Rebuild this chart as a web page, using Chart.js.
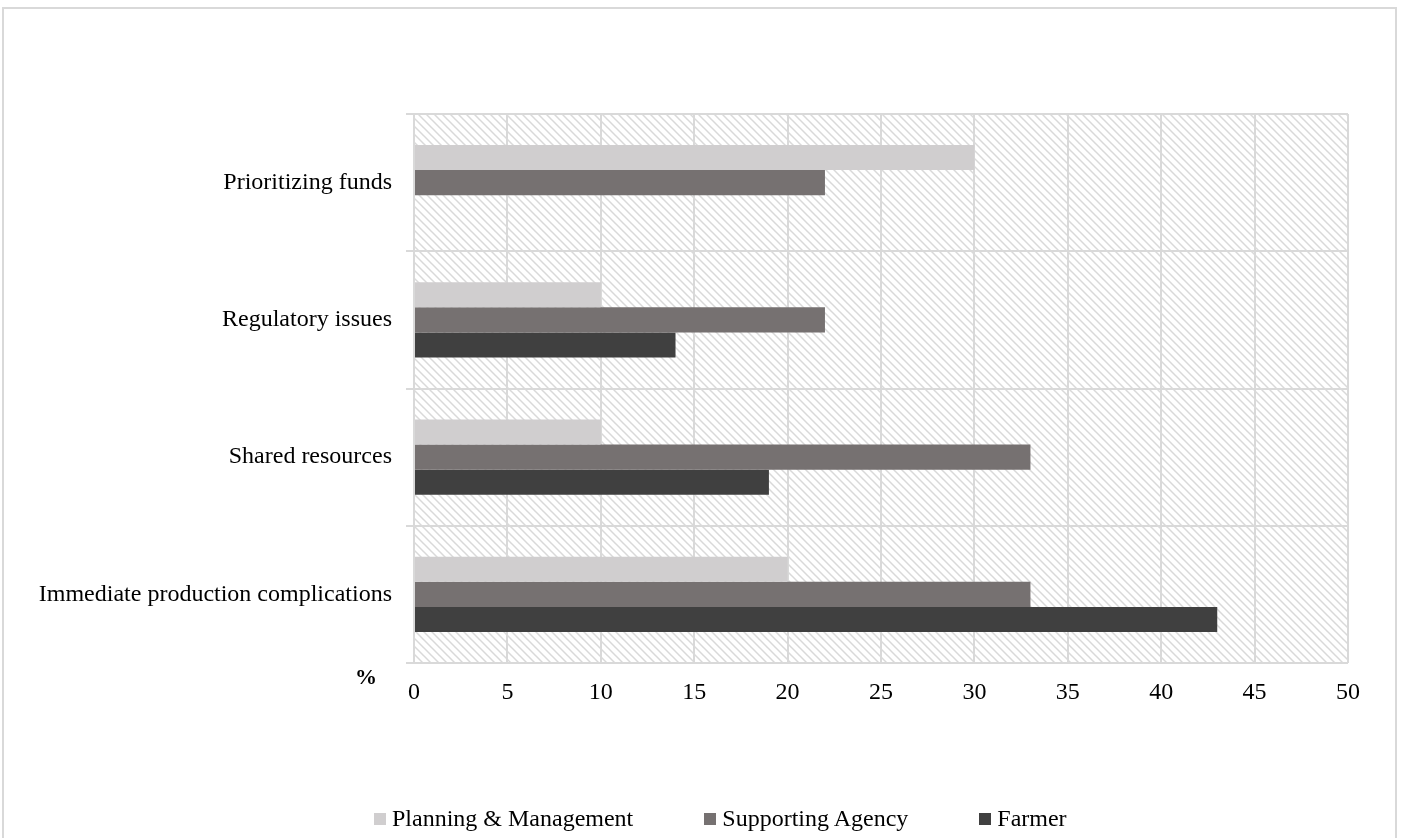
<!DOCTYPE html>
<html>
<head>
<meta charset="utf-8">
<script src="https://cdn.jsdelivr.net/npm/chart.js@4/dist/chart.umd.min.js"></script>
<style>
  html, body { margin: 0; padding: 0; background: #fff; overflow: hidden; }
  #wrap { position: relative; width: 1403px; height: 838px; }
  #frame {
    position: absolute; left: 2px; top: 7px; width: 1395px; height: 900px;
    border: 2px solid #d9d9d9; box-sizing: border-box;
  }
  #chart { position: absolute; left: 0; top: 0; }
  #legend {
    position: absolute; left: 374px; top: 805px; display: flex; gap: 71px;
    font: 24px "Liberation Serif", "Times New Roman", serif; color: #000;
  }
  #legend .item { display: flex; align-items: center; white-space: nowrap; }
  #legend .box { width: 12px; height: 12px; margin-right: 6px; }
</style>
</head>
<body>
<div id="wrap">
  <div id="frame"></div>
  <canvas id="chart" width="1403" height="838"></canvas>
  <div id="legend"></div>
</div>
<script>
// Issues raised, share of respondents (%) by group
const issues = ['Prioritizing funds', 'Regulatory issues', 'Shared resources', 'Immediate production complications'];
const planningValues = [30, 10, 10, 20];
const agencyValues = [22, 22, 33, 33];
const farmerValues = [0, 14, 19, 43];
const seriesNames = ['Planning & Management', 'Supporting Agency', 'Farmer'];
const seriesColors = ['#d0cecf', '#767171', '#404040'];
const xTicks = [0, 5, 10, 15, 20, 25, 30, 35, 40, 45, 50];

const FONT = '"Liberation Serif", "Times New Roman", serif';
const GRID = '#d9d9d9';

// diagonal hatch used behind the bars
function makeHatch() {
  const c = document.createElement('canvas');
  c.width = 8; c.height = 8;
  const g = c.getContext('2d');
  g.strokeStyle = GRID;
  g.lineWidth = 1.5;
  g.beginPath();
  g.moveTo(0, 0); g.lineTo(8, 8);
  g.moveTo(-4, 4); g.lineTo(4, 12);
  g.moveTo(4, -4); g.lineTo(12, 4);
  g.stroke();
  return g.createPattern(c, 'repeat');
}

const plotBackground = {
  id: 'plotBackground',
  beforeDraw(chart) {
    const { ctx, chartArea: a } = chart;
    ctx.save();
    ctx.fillStyle = makeHatch();
    ctx.fillRect(a.left, a.top, a.right - a.left, a.bottom - a.top);
    ctx.restore();
  }
};

// the bold "%" unit next to the first value tick
const unitLabel = {
  id: 'unitLabel',
  afterDraw(chart) {
    const { ctx } = chart;
    ctx.save();
    ctx.font = 'bold 22px ' + FONT;
    ctx.fillStyle = '#000';
    ctx.textAlign = 'center';
    ctx.textBaseline = 'middle';
    ctx.fillText('%', 366, 678);
    ctx.restore();
  }
};

const values = [planningValues, agencyValues, farmerValues];

new Chart(document.getElementById('chart'), {
  type: 'bar',
  data: {
    labels: issues,
    datasets: seriesNames.map((name, i) => ({
      label: name,
      data: values[i],
      backgroundColor: seriesColors[i],
      borderWidth: 0,
      categoryPercentage: 0.55,
      barPercentage: 1
    }))
  },
  options: {
    indexAxis: 'y',
    responsive: false,
    animation: false,
    layout: { padding: { left: 0, top: 114, right: 55, bottom: 115 } },
    plugins: {
      legend: { display: false },
      tooltip: { enabled: false }
    },
    scales: {
      x: {
        min: 0,
        max: 50,
        afterBuildTicks: scale => { scale.ticks = xTicks.map(v => ({ value: v })); },
        afterFit: scale => { scale.height = 60; },
        grid: { color: GRID, lineWidth: 2, drawTicks: false },
        border: { display: false },
        ticks: { color: '#000', font: { family: FONT, size: 24 }, padding: 15 }
      },
      y: {
        afterFit: scale => { scale.width = 414; },
        grid: { color: GRID, lineWidth: 2, tickLength: 8, offset: true },
        border: { display: false },
        ticks: { color: '#000', font: { family: FONT, size: 24 }, padding: 14 }
      }
    }
  },
  plugins: [plotBackground, unitLabel]
});

// legend row under the chart
const legend = document.getElementById('legend');
seriesNames.forEach((name, i) => {
  const item = document.createElement('div');
  item.className = 'item';
  const box = document.createElement('span');
  box.className = 'box';
  box.style.background = seriesColors[i];
  item.appendChild(box);
  item.appendChild(document.createTextNode(name));
  legend.appendChild(item);
});
</script>
</body>
</html>
